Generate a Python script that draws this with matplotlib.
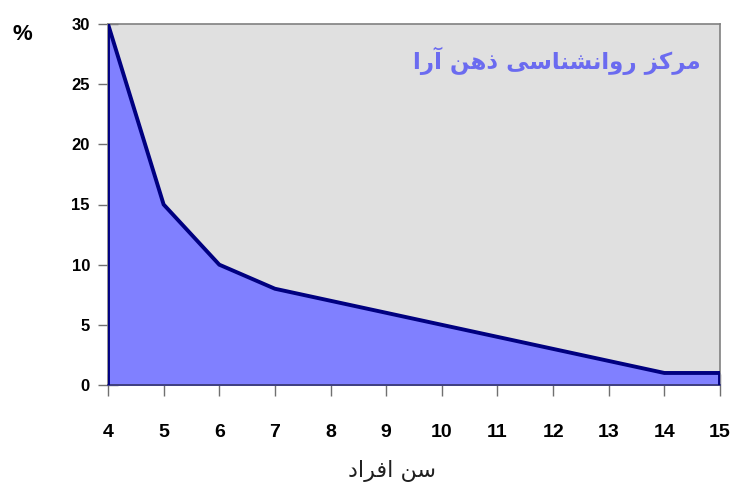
import matplotlib
matplotlib.use("Agg")
import matplotlib.pyplot as plt

ages = [4, 5, 6, 7, 8, 9, 10, 11, 12, 13, 14, 15]
percent = [30, 15, 10, 8, 7, 6, 5, 4, 3, 2, 1, 1]
y_ticks = [0, 5, 10, 15, 20, 25, 30]

# Persian text in visual order with presentation forms (no shaping engine in matplotlib)
title_logical = [
    "\uFEE3", "\uFEAE", "\uFB90", "\uFEB0", " ",
    "\uFEAD", "\uFEED", "\uFE8D", "\uFEE7", "\uFEB8", "\uFEE8", "\uFE8E", "\uFEB3", "\uFBFD", " ",
    "\uFEAB", "\uFEEB", "\uFEE6", " ",
    "\uFE81", "\uFEAD", "\uFE8D",
]
xlabel_logical = ["\uFEB3", "\uFEE6", " ", "\uFE8D", "\uFED3", "\uFEAE", "\uFE8D", "\uFEA9"]
title_text = "".join(reversed(title_logical))
xlabel_text = "".join(reversed(xlabel_logical))

fig = plt.figure(figsize=(7.5, 5), dpi=100)
ax = fig.add_axes([0.144, 0.23, 0.816, 0.722])
ax.set_facecolor("#E0E0E0")

ax.fill_between(ages, percent, 0, color="#8080FF", zorder=2)
ax.plot(ages, percent, color="#000080", lw=2.8, zorder=3, solid_joinstyle="miter")
ax.plot([ages[0], ages[0]], [0, percent[0]], color="#000080", lw=2.8, zorder=3)
ax.plot([ages[-1], ages[-1]], [0, percent[-1]], color="#000080", lw=2.8, zorder=3)

ax.set_xlim(ages[0], ages[-1])
ax.set_ylim(0, 30)
ax.set_xticks(ages)
ax.set_yticks(y_ticks)

for side in ["top", "right", "left"]:
    ax.spines[side].set_color("#808080")
    ax.spines[side].set_linewidth(1.2)
ax.spines["bottom"].set_color("#404080")
ax.spines["bottom"].set_linewidth(1.4)

ax.tick_params(axis="x", direction="inout", length=16, width=1, color="#707070",
               pad=20, labelsize=14)
ax.tick_params(axis="y", direction="inout", length=14, width=1, color="#707070",
               pad=6, labelsize=12)
for lab in ax.get_xticklabels() + ax.get_yticklabels():
    lab.set_fontfamily("Liberation Sans")
    lab.set_fontweight("bold")

fig.text(0.03, 0.932, "%", fontsize=16, fontweight="bold", family="Liberation Sans",
         ha="center", va="center")
fig.text(0.743, 0.878, title_text, fontsize=16.5, fontweight="bold", color="#6B6BF0",
         family="DejaVu Sans", ha="center", va="center")
fig.text(0.523, 0.058, xlabel_text, fontsize=16, color="#202020", family="DejaVu Sans",
         ha="center", va="center")

fig.savefig("out.png", dpi=100)
